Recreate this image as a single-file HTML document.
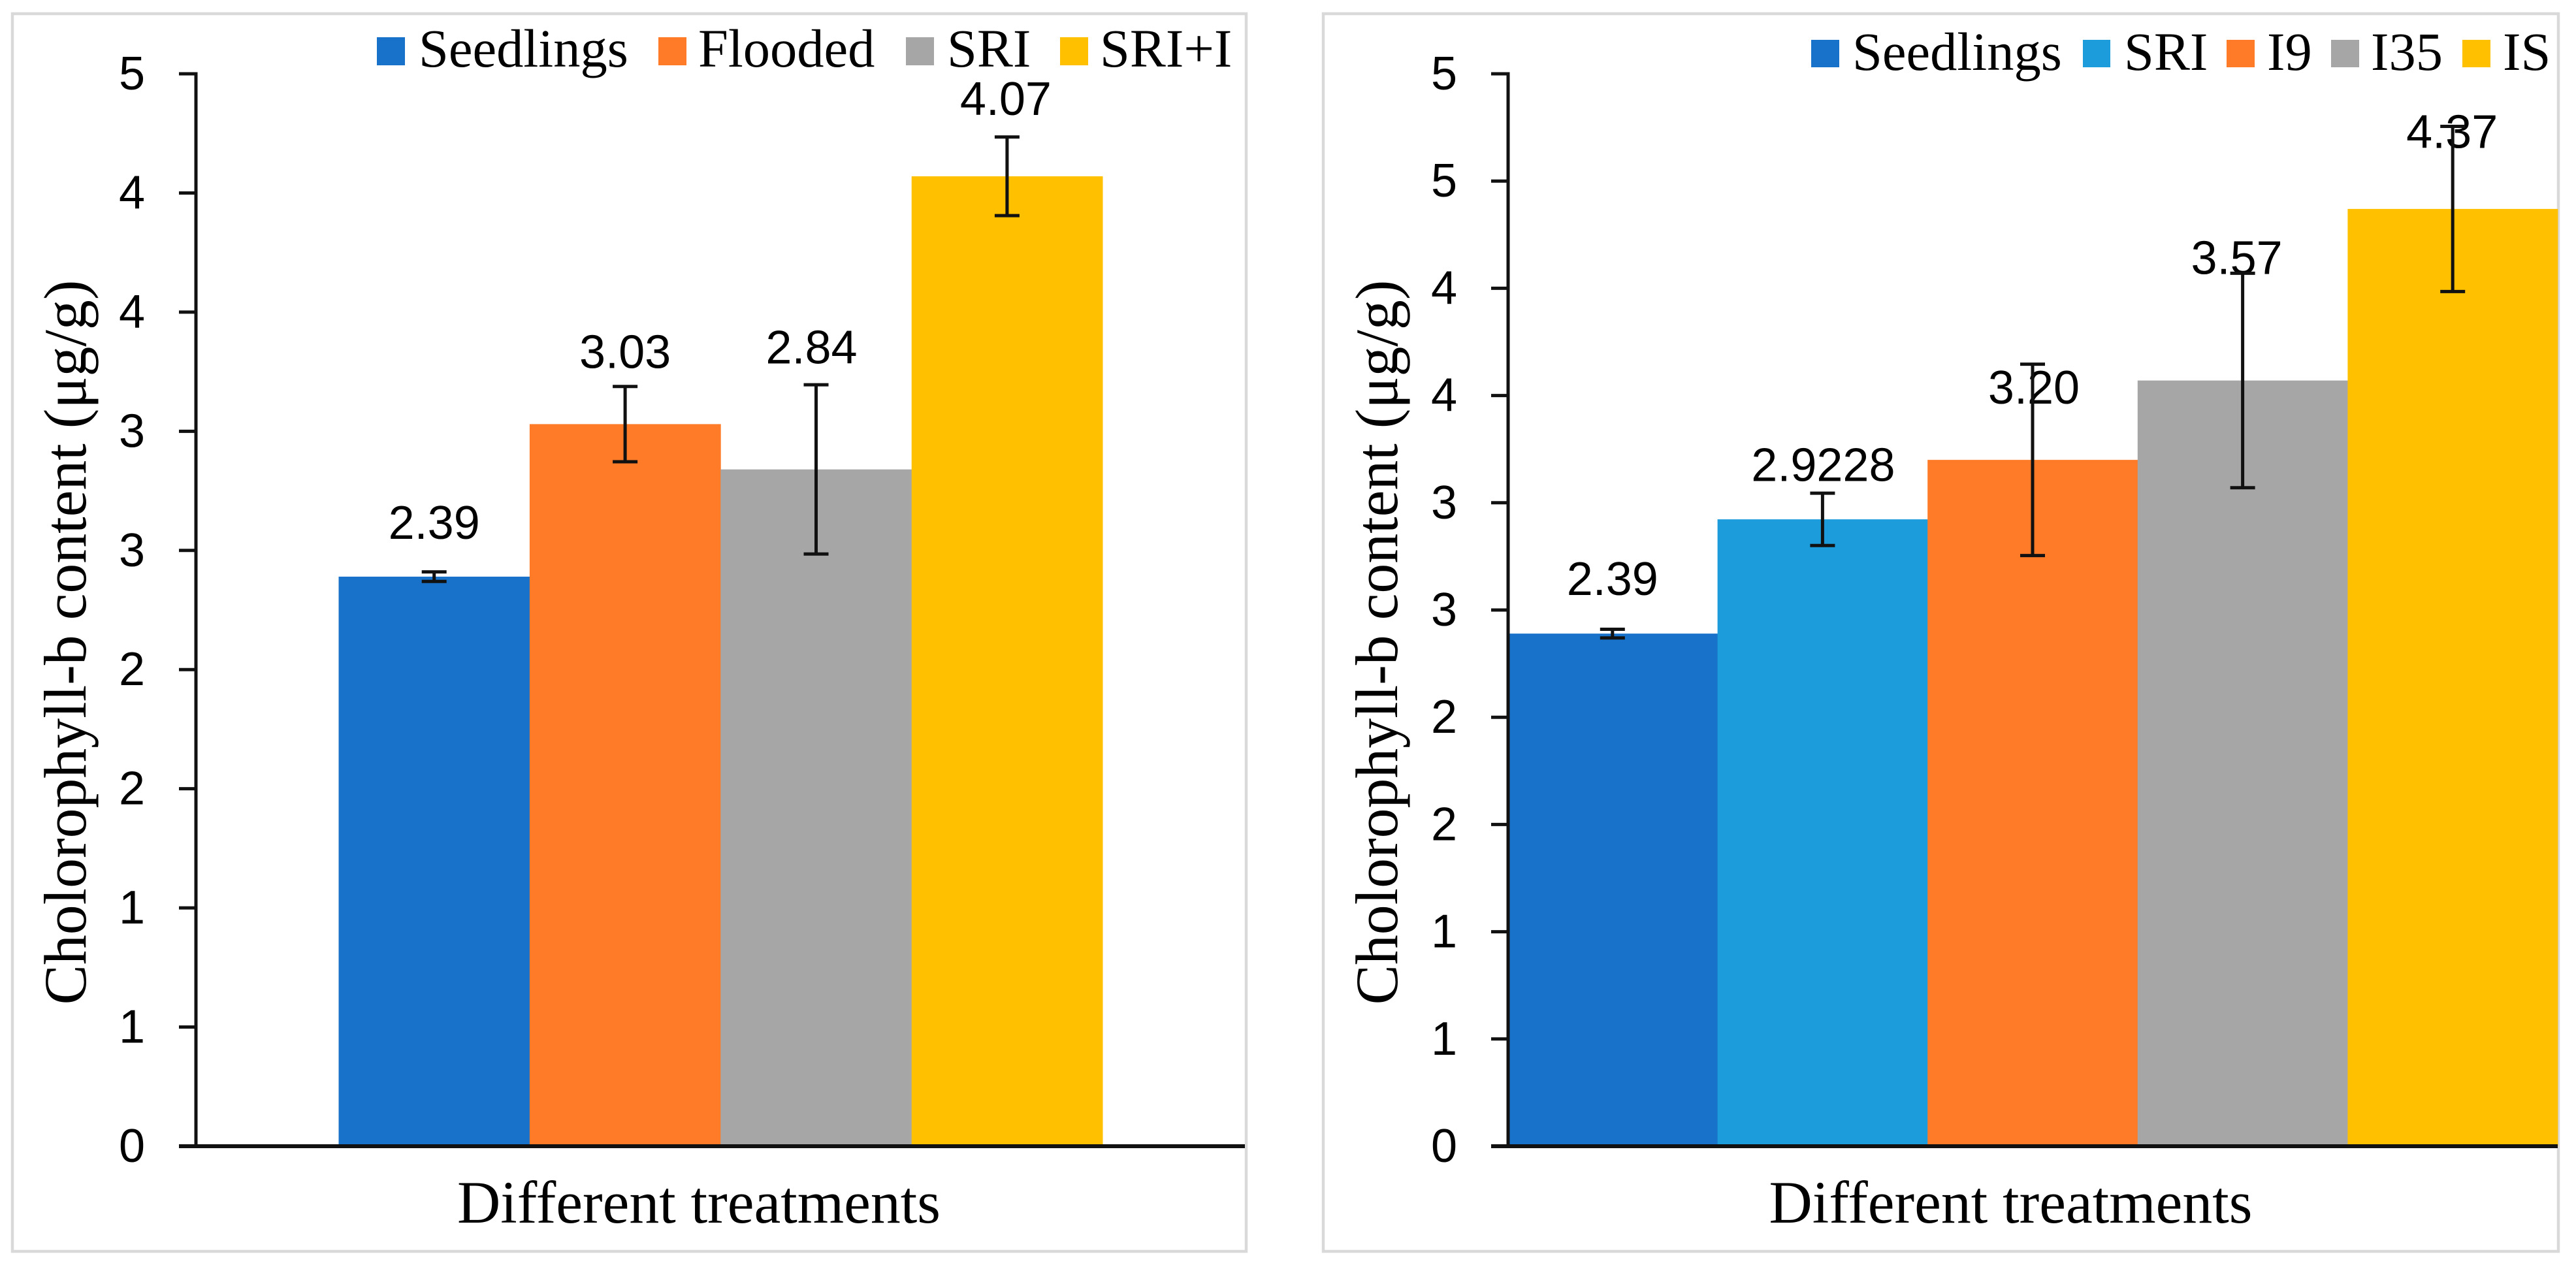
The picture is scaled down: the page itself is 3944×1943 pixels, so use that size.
<!DOCTYPE html>
<html lang="en">
<head>
<meta charset="utf-8">
<title>Cholorophyll-b content by treatment</title>
<style>
  html, body { margin: 0; padding: 0; background: #fff; }
  svg { display: block; }
  .serif { font-family: "Liberation Serif", serif; fill: #000; }
  .sans { font-family: "Liberation Sans", sans-serif; fill: #000; }
  .legend-text { font-size: 82.5px; }
  .axis-title { font-size: 91.8px; }
</style>
</head>
<body>
<svg id="figure" xmlns="http://www.w3.org/2000/svg" width="3944" height="1943" viewBox="0 0 3944 1943">
  <rect x="0" y="0" width="3944" height="1943" fill="#fff"/>

  <g id="left-chart">
    <rect x="19" y="21" width="1889" height="1895" fill="#fff" stroke="#d9d9d9" stroke-width="4.5"/>
    <g>
      <g>
        <rect x="577" y="57" width="43" height="43" fill="#1872c9"/>
        <text class="serif legend-text" x="641" y="102">Seedlings</text>
      </g>
      <g>
        <rect x="1008" y="57" width="43" height="43" fill="#ff7b27"/>
        <text class="serif legend-text" x="1069" y="102">Flooded</text>
      </g>
      <g>
        <rect x="1387" y="57" width="43" height="43" fill="#a6a6a6"/>
        <text class="serif legend-text" x="1450" y="102">SRI</text>
      </g>
      <g>
        <rect x="1623" y="57" width="43" height="43" fill="#ffc000"/>
        <text class="serif legend-text" x="1684" y="102">SRI+I</text>
      </g>
    </g>
    <text class="serif axis-title" text-anchor="middle" transform="translate(131,983.5) rotate(-90)">Cholorophyll-b content (μg/g)</text>
    <text class="serif axis-title" text-anchor="middle" x="1070" y="1872">Different treatments</text>
  </g>

  <g id="right-chart">
    <rect x="2026" y="21" width="1891" height="1895" fill="#fff" stroke="#d9d9d9" stroke-width="4.5"/>
    <g>
      <g>
        <rect x="2773" y="61" width="43" height="42" fill="#1872c9"/>
        <text class="serif legend-text" x="2836" y="107">Seedlings</text>
      </g>
      <g>
        <rect x="3189" y="61" width="42" height="42" fill="#1c9cda"/>
        <text class="serif legend-text" x="3252" y="107">SRI</text>
      </g>
      <g>
        <rect x="3409" y="61" width="43" height="42" fill="#ff7b27"/>
        <text class="serif legend-text" x="3471" y="107">I9</text>
      </g>
      <g>
        <rect x="3569" y="61" width="43" height="42" fill="#a6a6a6"/>
        <text class="serif legend-text" x="3630" y="107">I35</text>
      </g>
      <g>
        <rect x="3770" y="61" width="43" height="42" fill="#ffc000"/>
        <text class="serif legend-text" x="3832" y="107">IS</text>
      </g>
    </g>
    <text class="serif axis-title" text-anchor="middle" transform="translate(2139,983.5) rotate(-90)">Cholorophyll-b content (μg/g)</text>
    <text class="serif axis-title" text-anchor="middle" x="3078.5" y="1872">Different treatments</text>
  </g>
</svg>

<script>
// ---- Left chart data ----
const leftCategories = ["Seedlings", "Flooded", "SRI", "SRI+I"];
const leftValues = [2.39, 3.03, 2.84, 4.07];
const leftErrors = [0.02, 0.158, 0.355, 0.165];
const leftTickValues = [0, 0.5, 1, 1.5, 2, 2.5, 3, 3.5, 4, 4.5];
const leftTickLabels = ["0", "1", "1", "2", "2", "3", "3", "4", "4", "5"];

// ---- Right chart data ----
const rightCategories = ["Seedlings", "SRI", "I9", "I35", "IS"];
const rightValues = [2.39, 2.9228, 3.20, 3.57, 4.37];
const rightErrors = [0.02, 0.122, 0.446, 0.50, 0.385];
const rightTickValues = [0, 0.5, 1, 1.5, 2, 2.5, 3, 3.5, 4, 4.5, 5];
const rightTickLabels = ["0", "1", "1", "2", "2", "3", "3", "4", "4", "5", "5"];

// ---- Layout and style (separate from the data) ----
const leftLayout = {
  group: "left-chart", prefix: "left",
  axisX: 300, plotRight: 1906, baseY: 1755, topY: 113, axisMax: 4.5,
  barsStart: 518.5, barWidth: 292.4, tickLabelX: 222,
  colors: ["#1872c9", "#ff7b27", "#a6a6a6", "#ffc000"],
  labelLift: [0.159, 0.236, 0.444, 0.258],
  labelShift: [0, 0, -7, -2]
};
const rightLayout = {
  group: "right-chart", prefix: "right",
  axisX: 2309, plotRight: 3916, baseY: 1755, topY: 113, axisMax: 5,
  barsStart: 2308, barWidth: 321.6, tickLabelX: 2231,
  colors: ["#1872c9", "#1c9cda", "#ff7b27", "#a6a6a6", "#ffc000"],
  labelLift: [0.18, 0.178, 0.262, 0.496, 0.285],
  labelShift: [0, 1, 2, -9, -1]
};

const SVG_NS = "http://www.w3.org/2000/svg";
const CAP_HALF = 19;
const TICK_LEN = 26;

function slug(text) {
  return text.toLowerCase().replace(/[^a-z0-9]+/g, "-").replace(/^-|-$/g, "");
}

function make(tag, attrs, parent) {
  const el = document.createElementNS(SVG_NS, tag);
  Object.keys(attrs).forEach(function (k) { el.setAttribute(k, attrs[k]); });
  parent.appendChild(el);
  return el;
}

function formatValue(v) {
  const trimmed = Number(v.toFixed(4));
  const text = String(trimmed);
  const decimals = text.indexOf(".") < 0 ? 0 : text.length - text.indexOf(".") - 1;
  return decimals < 2 ? trimmed.toFixed(2) : text;
}

function drawChart(layout, categories, values, errors, tickValues, tickLabels) {
  const root = document.getElementById(layout.group);
  const yOf = function (v) {
    return layout.baseY - (v / layout.axisMax) * (layout.baseY - layout.topY);
  };
  const xOf = function (i) {
    return layout.barsStart + i * layout.barWidth;
  };

  // bars
  categories.forEach(function (cat, i) {
    const bar = make("rect", {
      x: xOf(i), y: yOf(values[i]), width: layout.barWidth + 0.4,
      height: layout.baseY - yOf(values[i]), fill: layout.colors[i]
    }, root);
    
    
  });

  // y axis and x axis
  const yAxis = make("line", {
    x1: layout.axisX, x2: layout.axisX, y1: layout.topY - 2.5, y2: layout.baseY,
    stroke: "#111", "stroke-width": 5
  }, root);
  
  

  const xAxis = make("line", {
    x1: layout.axisX - TICK_LEN, x2: layout.plotRight, y1: layout.baseY, y2: layout.baseY,
    stroke: "#111", "stroke-width": 6
  }, root);
  
  

  // ticks and tick labels
  tickValues.forEach(function (t, i) {
    const tick = make("line", {
      x1: layout.axisX - TICK_LEN, x2: layout.axisX, y1: yOf(t), y2: yOf(t),
      stroke: "#111", "stroke-width": 5
    }, root);
    
    

    const lab = make("text", {
      x: layout.tickLabelX, y: yOf(t) + 24, "text-anchor": "end",
      "class": "sans", "font-size": 72
    }, root);
    lab.textContent = tickLabels[i];
    
    
  });

  // value labels
  categories.forEach(function (cat, i) {
    const cx = xOf(i) + layout.barWidth / 2;
    const label = make("text", {
      x: cx + layout.labelShift[i], y: yOf(values[i] + layout.labelLift[i]),
      "text-anchor": "middle", "class": "sans", "font-size": 72
    }, root);
    label.textContent = formatValue(values[i]);
    
    
  });

  // error bars
  categories.forEach(function (cat, i) {
    const cx = xOf(i) + layout.barWidth / 2;
    const top = yOf(values[i] + errors[i]);
    const bottom = yOf(values[i] - errors[i]);
    const g = make("g", { stroke: "#111", "stroke-width": 5 }, root);
    
    
    make("line", { x1: cx, x2: cx, y1: top, y2: bottom }, g);
    make("line", { x1: cx - CAP_HALF, x2: cx + CAP_HALF, y1: top, y2: top }, g);
    make("line", { x1: cx - CAP_HALF, x2: cx + CAP_HALF, y1: bottom, y2: bottom }, g);
  });
}

drawChart(leftLayout, leftCategories, leftValues, leftErrors, leftTickValues, leftTickLabels);
drawChart(rightLayout, rightCategories, rightValues, rightErrors, rightTickValues, rightTickLabels);
</script>
</body>
</html>
